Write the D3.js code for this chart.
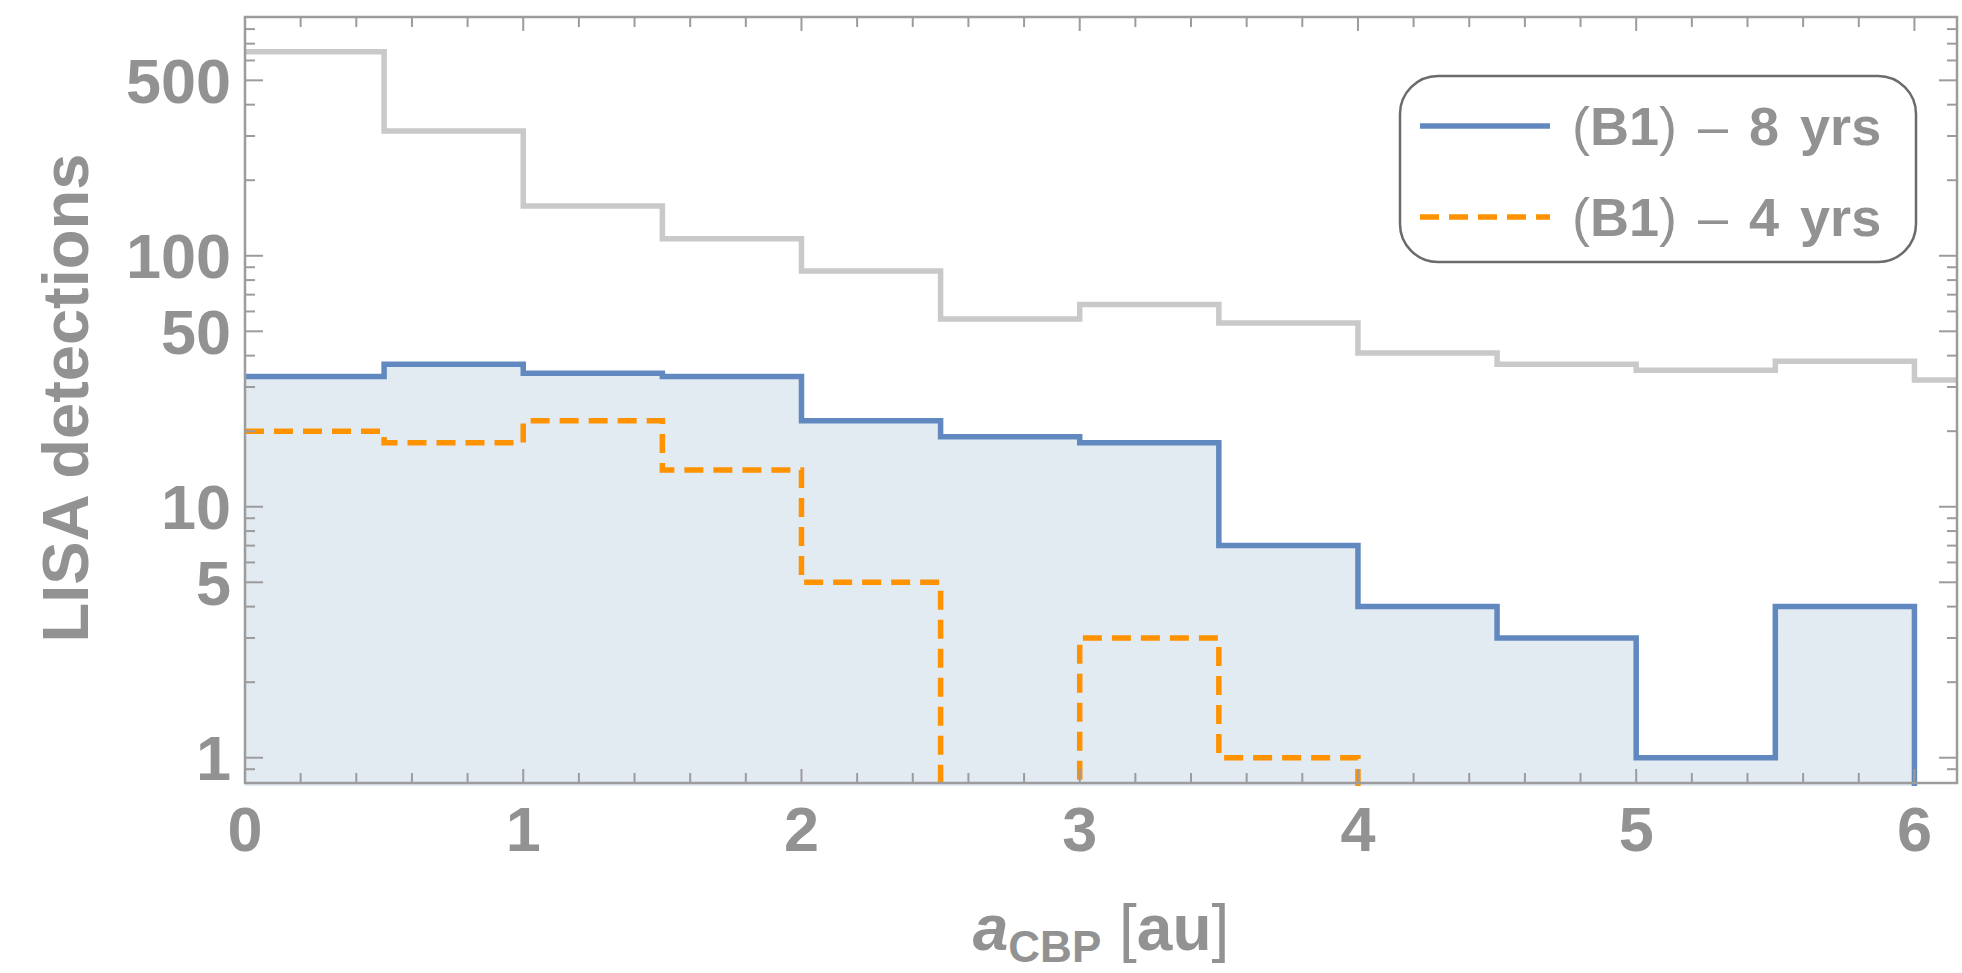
<!DOCTYPE html>
<html>
<head>
<meta charset="utf-8">
<script src="https://cdn.jsdelivr.net/npm/d3@7"></script>
<style>
  body { margin: 0; background: #fff; }
  text { font-family: "Liberation Sans", Arial, sans-serif; fill: #929292; }
</style>
</head>
<body>
<div id="chart"></div>
<script>
// bins of width 0.5 au (the gray reference histogram has one extra bin past 6)
var binStart = [0, 0.5, 1, 1.5, 2, 2.5, 3, 3.5, 4, 4.5, 5, 5.5, 6];
var binWidth = 0.5;

var allCounts = [650, 314, 158, 117, 87, 56, 64, 54, 41, 37, 35, 38, 32];
var b1Years8 = [33, 37, 34, 33, 22, 19, 18, 7, 4, 3, 1, 4];
var b1Years4 = [20, 18, 22, 14, 5, 0, 3, 1, 0, 0, 0, 0];

var xTicks = [0, 1, 2, 3, 4, 5, 6];
var yTicks = [1, 5, 10, 50, 100, 500];
var legendLabels = ["8 yrs", "4 yrs"];

var svgWidth = 1962;
var svgHeight = 973;

var margin = { top: 17, right: 5, bottom: 190, left: 245 };
var width = svgWidth - margin.left - margin.right;
var height = svgHeight - margin.top - margin.bottom;

var svg = d3.select("#chart")
    .append("svg")
    .attr("width", svgWidth)
    .attr("height", svgHeight);

var chartGroup = svg.append("g")
    .attr("transform", `translate(${margin.left}, ${margin.top})`);

var xScale = d3.scaleLinear()
    .domain([0, 6.153])
    .range([0, width]);

var yScale = d3.scaleLog()
    .domain([0.793, 894])
    .range([height, 0]);

// value used for empty bins: below the plot, so it gets clipped
var floorVal = 0.5;

chartGroup.append("clipPath")
    .attr("id", "plotClip")
    .append("rect")
    .attr("x", -3)
    .attr("y", -2)
    .attr("width", width + 3)
    .attr("height", height + 5);

function stepPoints(counts, endX, dropToFloor) {
    var pts = counts.map((c, i) => [binStart[i], c > 0 ? c : floorVal]);
    pts.push([endX, dropToFloor ? floorVal : counts[counts.length - 1]]);
    return pts;
}

var line = d3.line()
    .x(d => xScale(d[0]))
    .y(d => yScale(d[1]))
    .curve(d3.curveStepAfter);

var area = d3.area()
    .x(d => xScale(d[0]))
    .y0(yScale(floorVal))
    .y1(d => yScale(d[1]))
    .curve(d3.curveStepAfter);

var plot = chartGroup.append("g").attr("clip-path", "url(#plotClip)");

var bluePts = stepPoints(b1Years8, binStart[b1Years8.length - 1] + binWidth, true);
var orangePts = stepPoints(b1Years4, binStart[b1Years4.length - 1] + binWidth, true);
var grayPts = stepPoints(allCounts, binStart[allCounts.length - 1] + binWidth, false);

plot.append("path")
    .datum(bluePts)
    .attr("d", area)
    .attr("fill", "#e2eaf2");

// ticks
var minorY = [];
[0.1, 1, 10, 100].forEach(function (dec) {
    for (var k = 2; k <= 9; k++) {
        var v = k * dec;
        if (v !== 5 && v !== 50 && v !== 500 && v > 0.8 && v < 894) minorY.push(v);
    }
});
var minorX = d3.range(0, 31).map(d => d * 0.2).filter(d => Math.abs(d - Math.round(d)) > 0.01 && d < 6.15);

var tickColor = "#9c9c9c";
var ticks = chartGroup.append("g").attr("stroke", tickColor).attr("stroke-width", 2);

function yTickLines(vals, len) {
    vals.forEach(function (v) {
        var y = yScale(v);
        ticks.append("line").attr("x1", 0).attr("x2", len).attr("y1", y).attr("y2", y);
        ticks.append("line").attr("x1", width).attr("x2", width - len).attr("y1", y).attr("y2", y);
    });
}
function xTickLines(vals, len) {
    vals.forEach(function (v) {
        var x = xScale(v);
        ticks.append("line").attr("x1", x).attr("x2", x).attr("y1", height).attr("y2", height - len);
        ticks.append("line").attr("x1", x).attr("x2", x).attr("y1", 0).attr("y2", len);
    });
}
yTickLines(yTicks, 18);
yTickLines(minorY, 10);
xTickLines(xTicks, 14);
xTickLines(minorX, 10);

chartGroup.append("rect")
    .attr("width", width)
    .attr("height", height)
    .attr("fill", "none")
    .attr("stroke", tickColor)
    .attr("stroke-width", 2.5);

plot.append("path")
    .datum(grayPts)
    .attr("d", line)
    .attr("fill", "none")
    .attr("stroke", "#c9c9c9")
    .attr("stroke-width", 5.5);

plot.append("path")
    .datum(bluePts)
    .attr("d", line)
    .attr("fill", "none")
    .attr("stroke", "#6289bf")
    .attr("stroke-width", 5.5);

plot.append("path")
    .datum(orangePts)
    .attr("d", line)
    .attr("fill", "none")
    .attr("stroke", "#ff9200")
    .attr("stroke-width", 5.5)
    .attr("stroke-dasharray", "19,10");

// tick labels
chartGroup.selectAll(".xLabel")
    .data(xTicks)
    .enter()
    .append("text")
    .attr("x", d => xScale(d))
    .attr("y", height + 68)
    .attr("text-anchor", "middle")
    .attr("font-size", "63px")
    .attr("font-weight", "bold")
    .text(d => d);

chartGroup.selectAll(".yLabel")
    .data(yTicks)
    .enter()
    .append("text")
    .attr("x", -14)
    .attr("y", d => yScale(d) + 22.5)
    .attr("text-anchor", "end")
    .attr("font-size", "63px")
    .attr("font-weight", "bold")
    .text(d => d);

// axis titles
svg.append("text")
    .attr("transform", `translate(88, 398) rotate(-90)`)
    .attr("text-anchor", "middle")
    .attr("font-size", "65px")
    .attr("font-weight", "bold")
    .text("LISA detections");

var xTitle = svg.append("text")
    .attr("x", margin.left + width / 2)
    .attr("y", 950)
    .attr("text-anchor", "middle")
    .attr("font-size", "64px")
    .attr("font-weight", "bold");
xTitle.append("tspan").attr("font-style", "italic").text("a");
xTitle.append("tspan").attr("font-size", "44px").attr("dy", 12).text("CBP");
xTitle.append("tspan").attr("dy", -12).attr("font-weight", "normal").text(" [");
xTitle.append("tspan").text("au");
xTitle.append("tspan").attr("font-weight", "normal").text("]");

// legend
var legend = svg.append("g");
legend.append("rect")
    .attr("x", 1400)
    .attr("y", 76)
    .attr("width", 516)
    .attr("height", 186)
    .attr("rx", 38)
    .attr("fill", "#fff")
    .attr("stroke", "#6b6b6b")
    .attr("stroke-width", 2.5);

var legendStyles = [
    { color: "#6289bf", dash: null, y: 126 },
    { color: "#ff9200", dash: "19,10", y: 217 }
];

legendLabels.forEach(function (lab, i) {
    var s = legendStyles[i];
    legend.append("line")
        .attr("x1", 1420).attr("x2", 1550)
        .attr("y1", s.y).attr("y2", s.y)
        .attr("stroke", s.color)
        .attr("stroke-width", 5.5)
        .attr("stroke-dasharray", s.dash);
    var t = legend.append("text")
        .attr("x", 1572)
        .attr("y", s.y + 19)
        .attr("font-size", "54px")
        .attr("font-weight", "bold")
        .attr("word-spacing", "6px");
    t.append("tspan").attr("font-weight", "normal").text("(");
    t.append("tspan").text("B1");
    t.append("tspan").attr("font-weight", "normal").text(") \u2013 ");
    t.append("tspan").text(lab);
});
</script>
</body>
</html>
